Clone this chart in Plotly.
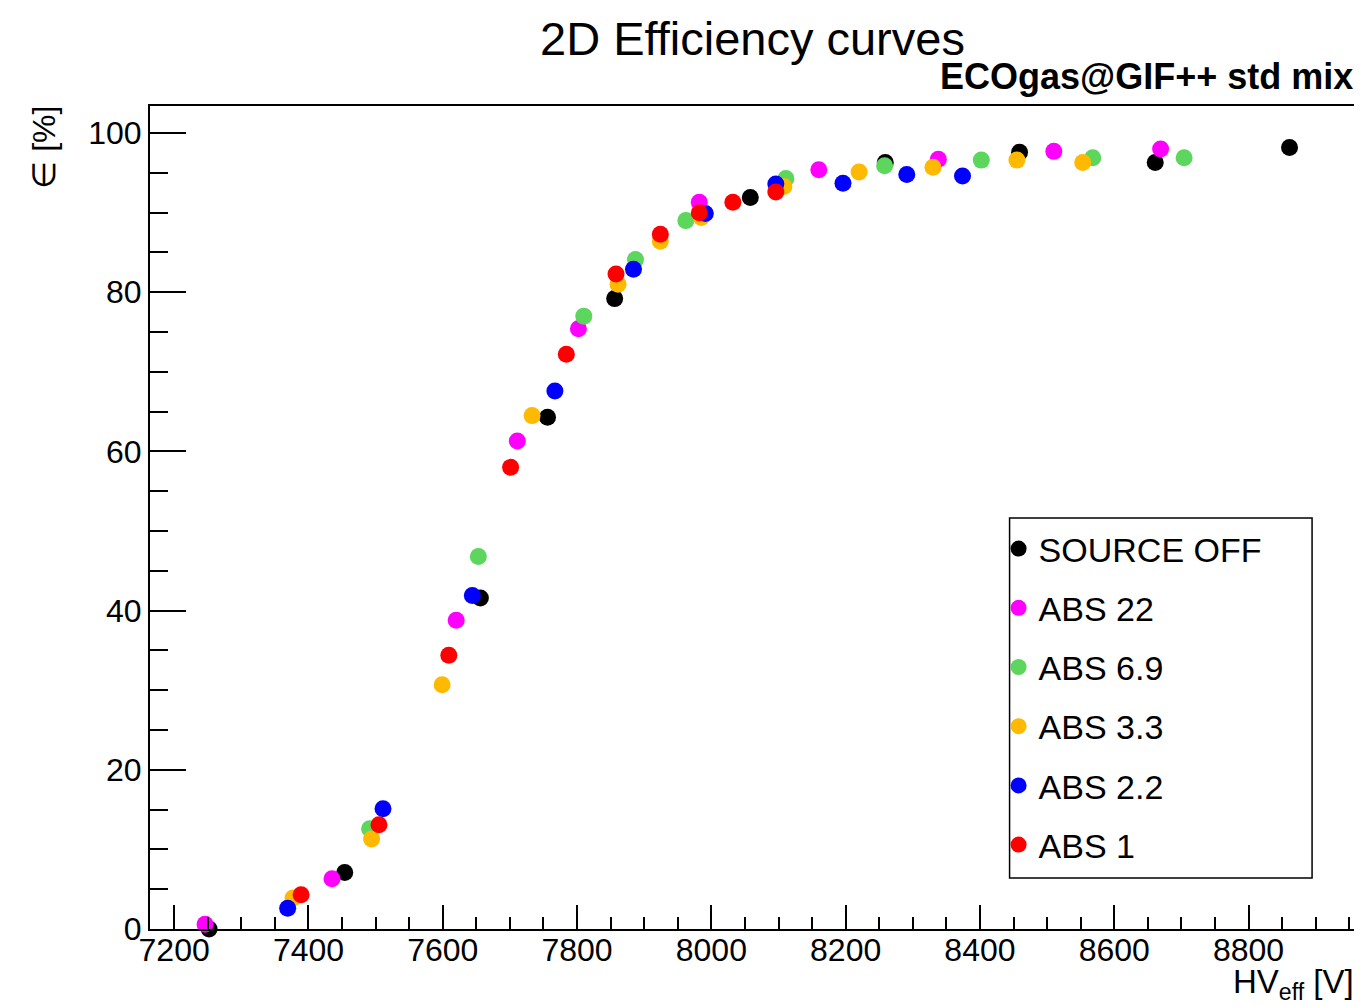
import plotly.graph_objects as go

# ---- data ----
series_names = ["SOURCE OFF", "ABS 22", "ABS 6.9", "ABS 3.3", "ABS 2.2", "ABS 1"]

src_off_x = [7252, 7454, 7656, 7756, 7856, 8058, 8259, 8459, 8661, 8861]
src_off_y = [0.0, 7.1, 41.6, 64.3, 79.2, 91.9, 96.3, 97.6, 96.3, 98.2]

abs22_x = [7246, 7435, 7620, 7711, 7802, 7982, 8160, 8338, 8510, 8669]
abs22_y = [0.6, 6.3, 38.8, 61.3, 75.4, 91.3, 95.4, 96.7, 97.7, 98.0]

abs69_x = [7491, 7653, 7810, 7887, 7962, 8111, 8258, 8402, 8568, 8704]
abs69_y = [12.6, 46.8, 77.0, 84.1, 89.0, 94.3, 95.9, 96.6, 96.9, 96.9]

abs33_x = [7377, 7494, 7599, 7733, 7861, 7924, 7985, 8108, 8220, 8330, 8455, 8553]
abs33_y = [3.9, 11.3, 30.7, 64.5, 81.0, 86.4, 89.4, 93.3, 95.1, 95.7, 96.6, 96.3]

abs22b_x = [7369, 7511, 7644, 7767, 7884, 7991, 8096, 8196, 8291, 8374]
abs22b_y = [2.6, 15.1, 41.9, 67.6, 82.9, 89.9, 93.6, 93.7, 94.8, 94.6]

abs1_x = [7389, 7505, 7609, 7701, 7784, 7858, 7924, 7982, 8032, 8096]
abs1_y = [4.3, 13.1, 34.4, 58.0, 72.2, 82.3, 87.3, 90.0, 91.3, 92.6]

series_x = [src_off_x, abs22_x, abs69_x, abs33_x, abs22b_x, abs1_x]
series_y = [src_off_y, abs22_y, abs69_y, abs33_y, abs22b_y, abs1_y]
colors = ["#000000", "#ff00ff", "#5cd65c", "#ffb900", "#0000ff", "#ff0000"]

x_range = [7164, 8960]
y_range = [0, 103.4]

FONT = "Liberation Sans, Arial, Helvetica, sans-serif"

fig = go.Figure()
for i, (name, xs, ys, c) in enumerate(zip(series_names, series_x, series_y, colors)):
    fig.add_trace(go.Scatter(
        x=xs, y=ys, mode="markers", name=name,
        legendgroup=f"g{i}",
        marker=dict(color=c, size=17, line=dict(width=0)),
        cliponaxis=False,
    ))

# page has an 8px body margin; compensate so the picture lines up
OFF = 8
W, H = 1362 - OFF, 1006 - OFF
L, R, T, B = 150 - OFF, 4, 106 - OFF, 77
pw = W - L - R
ph = H - T - B

def px_x(p):
    return (p - OFF - L) / pw

def px_y(p):
    return (H - B - (p - OFF)) / ph

fig.update_layout(
    width=W, height=H,
    margin=dict(l=L, r=R, t=T, b=B, pad=0),
    paper_bgcolor="white", plot_bgcolor="white",
    font=dict(family=FONT, color="black", size=32),
    showlegend=True,
    legend=dict(
        x=px_x(1000), y=px_y(520), xanchor="left", yanchor="top",
        borderwidth=0, bgcolor="rgba(0,0,0,0)",
        font=dict(family=FONT, size=34, color="black"),
        tracegroupgap=12,
        itemsizing="trace",
    ),
    shapes=[
        dict(type="rect", xref="paper", yref="paper",
             x0=px_x(1011), x1=px_x(1314), y0=px_y(878), y1=px_y(518),
             line=dict(color="black", width=1.5), fillcolor="rgba(0,0,0,0)", layer="above"),
    ],
    xaxis=dict(
        range=x_range, tick0=7200, dtick=200,
        ticks="inside", ticklen=24, tickwidth=2, tickcolor="black",
        showline=True, linewidth=2, linecolor="black", mirror=True,
        showgrid=False, zeroline=False,
        tickfont=dict(family=FONT, size=32),
        ticklabelstandoff=-8,
        minor=dict(dtick=50, ticks="inside", ticklen=12, tickwidth=2, tickcolor="black", showgrid=False),
    ),
    yaxis=dict(
        range=y_range, tick0=0, dtick=20,
        ticks="inside", ticklen=36, tickwidth=2, tickcolor="black",
        showline=True, linewidth=2, linecolor="black", mirror=True,
        showgrid=False, zeroline=False,
        tickfont=dict(family=FONT, size=32),
        minor=dict(dtick=5, ticks="inside", ticklen=18, tickwidth=2, tickcolor="black", showgrid=False),
    ),
    annotations=[
        dict(text="2D Efficiency curves", xref="paper", yref="paper",
             x=px_x(753), y=px_y(38), xanchor="center", yanchor="middle",
             showarrow=False, font=dict(family=FONT, size=47, color="black")),
        dict(text="<b>ECOgas@GIF++ std mix</b>", xref="paper", yref="paper",
             x=px_x(1357), y=px_y(77), xanchor="right", yanchor="middle",
             showarrow=False, font=dict(family=FONT, size=36, color="black")),
        dict(text="HV<sub>eff</sub> [V]", xref="paper", yref="paper",
             x=px_x(1358), y=px_y(984), xanchor="right", yanchor="middle",
             showarrow=False, font=dict(family=FONT, size=33, color="black")),
        dict(text="∈ [%]", xref="paper", yref="paper",
             x=px_x(43), y=px_y(104), xanchor="center", yanchor="top",
             textangle=-90, showarrow=False,
             font=dict(family=FONT, size=32, color="black")),
    ],
)

fig.write_html("out.html")
